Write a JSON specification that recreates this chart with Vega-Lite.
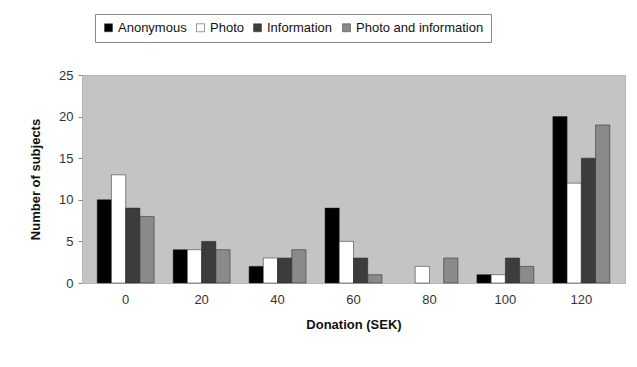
{
  "$schema": "https://vega.github.io/schema/vega-lite/v6.json",
  "width": 543,
  "height": 208,
  "autosize": {"type": "none"},
  "padding": {"left": 82, "top": 75, "right": 12, "bottom": 84},
  "background": "white",
  "config": {
    "font": "Liberation Sans",
    "view": {"fill": "#c4c4c4", "stroke": "#888888", "strokeDash": [1, 1]}
  },
  "data": {
    "values": [
      {"donation": "0", "group": "Anonymous", "n": 10},
      {"donation": "0", "group": "Photo", "n": 13},
      {"donation": "0", "group": "Information", "n": 9},
      {"donation": "0", "group": "Photo and information", "n": 8},
      {"donation": "20", "group": "Anonymous", "n": 4},
      {"donation": "20", "group": "Photo", "n": 4},
      {"donation": "20", "group": "Information", "n": 5},
      {"donation": "20", "group": "Photo and information", "n": 4},
      {"donation": "40", "group": "Anonymous", "n": 2},
      {"donation": "40", "group": "Photo", "n": 3},
      {"donation": "40", "group": "Information", "n": 3},
      {"donation": "40", "group": "Photo and information", "n": 4},
      {"donation": "60", "group": "Anonymous", "n": 9},
      {"donation": "60", "group": "Photo", "n": 5},
      {"donation": "60", "group": "Information", "n": 3},
      {"donation": "60", "group": "Photo and information", "n": 1},
      {"donation": "80", "group": "Anonymous", "n": 0},
      {"donation": "80", "group": "Photo", "n": 2},
      {"donation": "80", "group": "Information", "n": 0},
      {"donation": "80", "group": "Photo and information", "n": 3},
      {"donation": "100", "group": "Anonymous", "n": 1},
      {"donation": "100", "group": "Photo", "n": 1},
      {"donation": "100", "group": "Information", "n": 3},
      {"donation": "100", "group": "Photo and information", "n": 2},
      {"donation": "120", "group": "Anonymous", "n": 20},
      {"donation": "120", "group": "Photo", "n": 12},
      {"donation": "120", "group": "Information", "n": 15},
      {"donation": "120", "group": "Photo and information", "n": 19}
    ]
  },
  "mark": {"type": "bar", "stroke": "#222222", "strokeWidth": 0.5},
  "encoding": {
    "x": {
      "field": "donation",
      "type": "ordinal",
      "sort": ["0", "20", "40", "60", "80", "100", "120"],
      "scale": {"paddingInner": 0.25, "paddingOuter": 0.2},
      "axis": {
        "title": "Donation (SEK)",
        "titleFontSize": 13,
        "titleFontWeight": "bold",
        "titleColor": "#111111",
        "titlePadding": 12,
        "labelAngle": 0,
        "labelFontSize": 13,
        "labelColor": "#333333",
        "labelPadding": 10,
        "ticks": false,
        "domain": false
      }
    },
    "xOffset": {
      "field": "group",
      "type": "nominal",
      "sort": ["Anonymous", "Photo", "Information", "Photo and information"],
      "scale": {"paddingInner": 0, "paddingOuter": 0}
    },
    "y": {
      "field": "n",
      "type": "quantitative",
      "scale": {"domain": [0, 25]},
      "axis": {
        "title": "Number of subjects",
        "titleFontSize": 13,
        "titleFontWeight": "bold",
        "titleColor": "#111111",
        "titlePadding": 16,
        "values": [0, 5, 10, 15, 20, 25],
        "grid": false,
        "labelFontSize": 13,
        "labelColor": "#333333",
        "labelPadding": 5,
        "tickSize": 4,
        "tickColor": "#888888",
        "domain": false
      }
    },
    "strokeOpacity": {
      "condition": {"test": "datum.n === 0", "value": 0},
      "value": 1
    },
    "color": {
      "field": "group",
      "type": "nominal",
      "sort": ["Anonymous", "Photo", "Information", "Photo and information"],
      "scale": {
        "domain": ["Anonymous", "Photo", "Information", "Photo and information"],
        "range": ["#000000", "#ffffff", "#3c3c3c", "#8a8a8a"]
      },
      "legend": {
        "title": null,
        "orient": "none",
        "direction": "horizontal",
        "legendX": 13,
        "legendY": -61,
        "symbolType": "square",
        "symbolSize": 64,
        "symbolStrokeColor": "#333333",
        "symbolStrokeWidth": 0.5,
        "labelFontSize": 13,
        "labelColor": "#111111",
        "labelOffset": 3,
        "columnPadding": 7,
        "padding": 7,
        "strokeColor": "#888888"
      }
    }
  }
}
